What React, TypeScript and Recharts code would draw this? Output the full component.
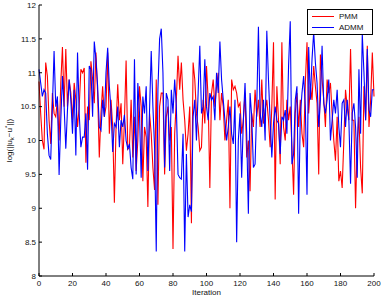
import React from "react";
import { LineChart, Line, XAxis, YAxis, Legend } from "recharts";

// iterations 0..200
const pmm = [
  10.87, 10.4, 10.0, 9.87, 11.15, 10.95, 10.3, 9.95, 10.7, 10.4,
  10.35, 10.6, 10.0, 10.85, 11.38, 10.5, 11.35, 10.5, 10.9, 10.7,
  10.3, 10.85, 10.6, 10.2, 10.5, 11.05, 11.0, 11.07, 9.67, 10.5,
  10.3, 11.17, 10.9, 10.55, 11.3, 10.7, 9.75, 10.4, 10.8, 10.35,
  10.5, 11.3, 10.1, 10.6, 10.2, 9.08, 10.2, 10.83, 10.3, 10.55,
  9.65, 10.3, 11.18, 9.87, 9.9, 10.6, 9.75, 10.35, 9.55, 10.0,
  10.8, 10.5, 9.4, 10.2, 10.05, 9.02, 10.4, 10.1, 9.6, 9.27,
  10.9, 9.05, 10.5, 10.7, 10.7, 9.5, 10.35, 10.5, 10.0, 10.2,
  8.4, 10.1, 10.6, 11.25, 10.75, 11.15, 10.6, 10.3, 9.85, 10.1,
  10.5, 8.78, 11.15, 10.9, 10.4, 10.2, 9.85, 9.9, 10.6, 10.25,
  11.1, 10.6, 9.3, 10.7, 10.9, 10.5, 10.8, 11.0, 10.3, 10.7,
  10.5, 10.0, 10.3, 10.6, 9.0, 10.9, 10.75, 10.8, 10.7, 10.5,
  10.55, 10.1, 10.3, 10.7, 9.75, 10.0, 9.25, 10.4, 10.2, 10.75,
  10.35, 10.6, 10.2, 10.9, 10.25, 10.45, 10.6, 10.3, 9.9, 10.5,
  11.45, 9.13, 10.8, 10.3, 9.65, 11.45, 10.2, 10.0, 10.6, 10.3,
  10.5, 9.9, 9.2, 10.4, 10.7, 10.2, 10.6, 10.1, 9.9, 10.85,
  11.45, 10.4, 10.8, 10.6, 11.1, 10.8, 10.55, 9.5, 11.27, 10.9,
  10.6, 10.2, 10.9, 10.7, 10.85, 10.4, 10.0, 9.7, 10.35, 9.4,
  9.55, 9.3, 10.0, 10.75, 10.5, 10.3, 11.35, 10.3, 10.3, 9.0,
  10.0, 10.35, 9.6, 9.22, 10.8, 10.3, 11.4, 10.2, 10.6, 11.3,
  10.65,
];

const admm = [
  11.05, 10.85, 10.65, 10.75, 10.7, 10.1, 9.78, 9.72, 10.5, 11.32,
  10.5, 10.65, 9.49, 10.3, 10.95, 10.5, 9.88, 10.45, 10.9, 10.6,
  10.1, 10.75, 9.78, 11.3, 10.4, 9.9, 10.05, 10.05, 10.4, 9.57,
  11.1, 11.05, 10.35, 11.46, 11.2, 10.8, 10.2, 10.15, 10.6, 10.35,
  11.0, 11.37, 10.8, 10.45, 9.83, 10.25, 10.2, 10.5, 9.9, 10.3,
  10.2, 10.38, 10.0, 9.88, 9.95, 9.6, 9.43, 11.2, 9.5, 10.85,
  10.4, 9.45, 10.65, 10.4, 10.8, 9.55, 10.45, 11.32, 10.5, 9.9,
  8.36, 10.75, 11.5, 11.65, 11.0, 9.6, 10.7, 10.6, 9.55, 10.75,
  10.4, 10.9, 10.5, 9.5, 9.45, 9.43, 10.1, 8.36, 9.8, 8.87,
  9.05, 8.95, 10.35, 10.6, 10.0, 10.7, 11.4, 10.4, 10.5, 11.2,
  10.5, 10.3, 10.7, 10.6, 10.65, 10.3, 11.0, 10.7, 11.46, 10.9,
  10.6, 10.3, 10.0, 10.2, 10.5, 10.1, 9.95, 10.6, 8.5, 10.0,
  10.4, 9.45, 10.3, 10.85, 10.1, 8.92, 10.7, 10.35, 9.6, 9.65,
  10.5, 11.68, 10.4, 10.2, 10.6, 10.0, 11.62, 10.9, 10.3, 9.75,
  10.25, 10.5, 10.3, 10.25, 9.8, 10.35, 10.3, 10.45, 10.1, 11.1,
  11.76, 9.65, 9.8, 10.6, 10.8, 8.92, 10.35, 10.7, 10.95, 10.5,
  9.2, 11.38, 10.6, 11.2, 11.6, 11.15, 10.85, 10.2, 10.6, 11.4,
  10.55, 10.4, 10.6, 10.9, 10.0, 10.3, 10.6, 10.4, 10.75, 10.2,
  9.9, 10.55, 10.6, 10.2, 10.6, 10.3, 9.36, 10.4, 10.55, 10.2,
  9.45, 11.05, 10.1, 11.57, 11.0, 10.3, 11.35, 10.45, 10.35, 10.75,
  10.75,
];

const xTicks = [0, 20, 40, 60, 80, 100, 120, 140, 160, 180, 200];
const yTicks = [8, 8.5, 9, 9.5, 10, 10.5, 11, 11.5, 12];

const data = pmm.map((v, i) => ({ iter: i, pmm: v, admm: admm[i] }));

const font = "'Liberation Sans', Arial, sans-serif";
const tickStyle = { fontSize: 8, fill: "#111", fontFamily: font };

function YLabel({ viewBox }: any) {
  const cx = 12;
  const cy = viewBox.y + viewBox.height / 2;
  return (
    <text
      x={cx}
      y={cy}
      transform={`rotate(-90, ${cx}, ${cy})`}
      textAnchor="middle"
      fontSize={8}
      fontFamily={font}
      fill="#111"
    >
      log(||u
      <tspan fontSize={6} dy={2}>k</tspan>
      <tspan dy={-2}>−u</tspan>
      <tspan fontSize={6} dy={-3}>*</tspan>
      <tspan dy={3}>||)</tspan>
    </text>
  );
}

function LegendBox() {
  const items = [
    { name: "PMM", color: "#ff0000" },
    { name: "ADMM", color: "#0000ff" },
  ];
  return (
    <div
      style={{
        border: "1px solid #000",
        background: "#fff",
        padding: "1px 4px",
        fontFamily: font,
        fontSize: 8,
        lineHeight: "11px",
        color: "#111",
      }}
    >
      {items.map((it) => (
        <div key={it.name} style={{ display: "flex", alignItems: "center" }}>
          <div style={{ width: 22, height: 1.2, background: it.color, marginRight: 5 }} />
          <span>{it.name}</span>
        </div>
      ))}
    </div>
  );
}

export default function App() {
  return (
    <div style={{ position: "absolute", left: 0, top: 0, background: "#fff" }}>
      <LineChart
        width={382}
        height={300}
        data={data}
        margin={{ top: 5, right: 8, bottom: 0, left: 0 }}
      >
        <XAxis
          dataKey="iter"
          type="number"
          domain={[0, 200]}
          ticks={xTicks}
          interval={0}
          height={24}
          tick={tickStyle}
          tickSize={-3}
          tickMargin={7}
          stroke="#000"
          label={{
            value: "Iteration",
            position: "insideBottom",
            offset: 5,
            fontSize: 8,
            fill: "#111",
            fontFamily: font,
          }}
        />
        <XAxis
          xAxisId="top"
          dataKey="iter"
          type="number"
          orientation="top"
          domain={[0, 200]}
          ticks={xTicks}
          height={0}
          tick={false}
          tickSize={-3}
          stroke="#000"
        />
        <YAxis
          type="number"
          domain={[8, 12]}
          ticks={yTicks}
          interval={0}
          width={39}
          tick={tickStyle}
          tickSize={-3}
          tickMargin={6}
          stroke="#000"
          label={<YLabel />}
        />
        <YAxis
          yAxisId="right"
          orientation="right"
          type="number"
          domain={[8, 12]}
          ticks={yTicks}
          width={0}
          tick={false}
          tickSize={-3}
          stroke="#000"
        />
        <Legend
          layout="horizontal"
          verticalAlign="middle"
          align="center"
          content={<LegendBox />}
          wrapperStyle={{ position: "absolute", left: 307, top: 9, width: 66 }}
        />
        <Line
          dataKey="pmm"
          name="PMM"
          stroke="#ff0000"
          strokeWidth={1.1}
          dot={false}
          type="linear"
          isAnimationActive={false}
        />
        <Line
          dataKey="admm"
          name="ADMM"
          stroke="#0000ff"
          strokeWidth={1.1}
          dot={false}
          type="linear"
          isAnimationActive={false}
        />
      </LineChart>
    </div>
  );
}
